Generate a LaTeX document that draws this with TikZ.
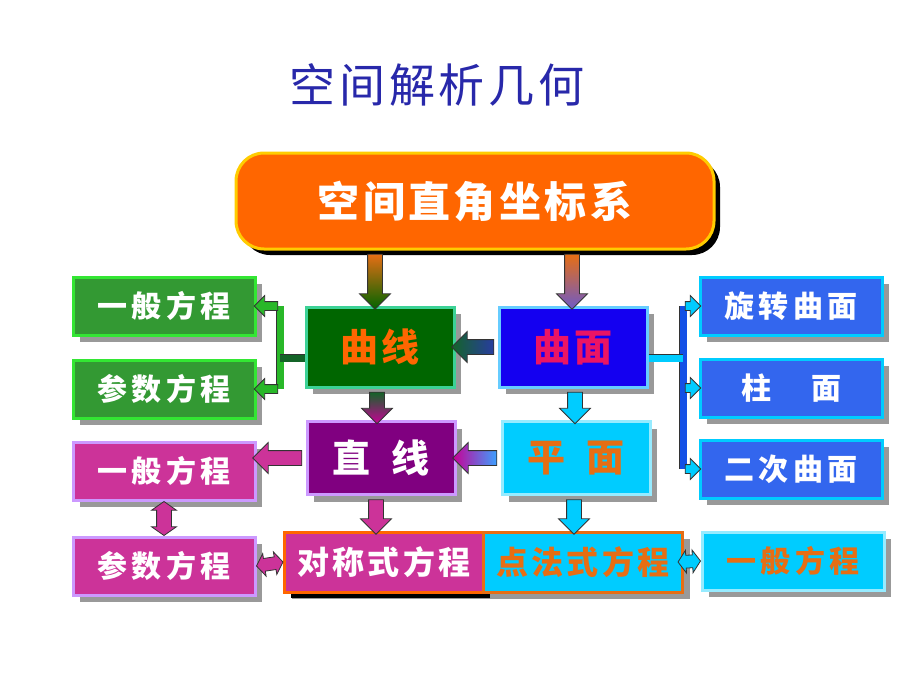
\documentclass[tikz,border=0pt]{standalone}
\usepackage{fontspec}
\newfontfamily\cjk{Noto Sans CJK SC}
\usetikzlibrary{shapes.arrows,shadows,calc}

\definecolor{titleblue}{RGB}{40,40,170}
\definecolor{topfill}{RGB}{255,102,0}
\definecolor{topline}{RGB}{255,204,0}
\definecolor{qxfill}{RGB}{0,102,0}
\definecolor{qxline}{RGB}{60,210,150}
\definecolor{qmfill}{RGB}{20,0,240}
\definecolor{qmline}{RGB}{102,204,255}
\definecolor{qmtext}{RGB}{235,20,100}
\definecolor{zxfill}{RGB}{128,0,128}
\definecolor{lilac}{RGB}{204,153,255}
\definecolor{skyfill}{RGB}{0,204,255}
\definecolor{skyline}{RGB}{150,235,255}
\definecolor{ortext}{RGB}{230,110,20}
\definecolor{gfill}{RGB}{51,153,51}
\definecolor{gline}{RGB}{51,230,51}
\definecolor{gdark}{RGB}{20,100,40}
\definecolor{mfill}{RGB}{204,51,153}
\definecolor{bfill}{RGB}{51,102,238}
\definecolor{bdark}{RGB}{20,80,230}
\definecolor{arrgreen}{RGB}{0,100,0}
\definecolor{arrviolet}{RGB}{110,90,200}
\definecolor{arrblue}{RGB}{40,60,160}
\definecolor{arrmag}{RGB}{200,0,150}
\definecolor{arrsky}{RGB}{60,160,255}

\tikzset{
  box/.style={rectangle, minimum width=182pt, minimum height=58pt, inner sep=0pt,
    line width=3pt, text=white,
    font=\cjk\bfseries\fontsize{30}{30}\selectfont\addfontfeature{LetterSpace=15},
    drop shadow={shadow xshift=7pt, shadow yshift=-7pt, fill=black!40, opacity=1}},
  midbox/.style={box, minimum width=148pt, minimum height=76pt,
    font=\cjk\bfseries\fontsize{38}{38}\selectfont\addfontfeature{LetterSpace=10}},
  lowbox/.style={box, minimum width=199pt, minimum height=60pt,
    font=\cjk\bfseries\fontsize{32}{32}\selectfont\addfontfeature{LetterSpace=10}},
  barrow/.style={single arrow, draw=black!80, line width=0.8pt, inner xsep=0pt, inner ysep=7pt,
    single arrow head extend=8pt, single arrow head indent=0pt},
  sarrow/.style={barrow, inner ysep=4pt, single arrow head extend=6pt},
  darrow/.style={double arrow, draw=black!80, line width=0.8pt, inner xsep=0pt, inner ysep=6pt,
    double arrow head extend=5pt, double arrow head indent=0pt, double arrow tip angle=110},
  bar/.style={draw=black!80, line width=0.8pt, double distance=7pt}
}

% block arrow from #2 to #3
\newcommand{\blockarrow}[3][]{%
  \path let \p1=(#2), \p2=(#3), \n1={atan2(\y2-\y1,\x2-\x1)}, \n2={veclen(\x2-\x1,\y2-\y1)} in
    node[#1, rotate=\n1, minimum height=\n2] at ($(\p1)!0.5!(\p2)$) {};%
}

\begin{document}
\begin{tikzpicture}[x=1pt, y=-1pt]
\useasboundingbox[fill=white] (0,0) rectangle (920,690);

\node[font=\cjk\fontsize{46}{46}\selectfont\addfontfeature{LetterSpace=8}, text=titleblue] (title) at (437,85) {空间解析几何};

% top
\node[rectangle, rounded corners=28pt, minimum width=478pt, minimum height=96pt, fill=topfill, draw=topline, line width=3pt,
  text=white, font=\cjk\bfseries\fontsize{42}{42}\selectfont\addfontfeature{LetterSpace=8},
  drop shadow={shadow xshift=6pt, shadow yshift=-6pt, fill=black, opacity=1}] (top) at (475,201) {空间直角坐标系};

% middle column
\node[midbox, minimum height=80pt, fill=qxfill, draw=qxline, text=topfill] (qx) at (380,347) {曲线};
\node[midbox, minimum height=80pt, fill=qmfill, draw=qmline, text=qmtext] (qm) at (573,347) {曲面};
\node[midbox, minimum height=73pt, fill=zxfill, draw=lilac] (zx) at (381,458) {直\hspace{22pt}线};
\node[midbox, minimum height=73pt, fill=skyfill, draw=skyline, text=ortext] (pm) at (576,458) {平\hspace{22pt}面};

% left
\node[box, fill=gfill, draw=gline] (g1) at (164,306) {一般方程};
\node[box, fill=gfill, draw=gline] (g2) at (164,389) {参数方程};
\node[box, fill=mfill, draw=lilac] (m1) at (164,471) {一般方程};
\node[box, fill=mfill, draw=lilac] (m2) at (164,566) {参数方程};

% right
\node[box, fill=bfill, draw=skyfill] (b1) at (791,306) {旋转曲面};
\node[box, fill=bfill, draw=skyfill] (b2) at (791,388) {柱\hspace{40pt}面};
\node[box, fill=bfill, draw=skyfill] (b3) at (791,469) {二次曲面};

% bottom
\node[lowbox, fill=mfill, draw=topfill, drop shadow={shadow xshift=6pt, shadow yshift=-6pt, fill=black, opacity=1}] (dc) at (384,562) {对称式方程};
\node[lowbox, fill=skyfill, draw=ortext, text=ortext] (dd) at (583,562) {点法式方程};
\node[box, fill=skyfill, draw=skyline, text=ortext] (yb) at (793,561) {一般方程};

% arrows
\blockarrow[barrow, top color=ortext, bottom color=arrgreen]{top.south -| 375,0}{qx.north -| 375,0}
\blockarrow[barrow, top color=ortext, bottom color=arrviolet]{top.south -| 572,0}{qm.north -| 572,0}
\blockarrow[barrow, left color=gdark, right color=arrblue]{qm.west}{qx.east}
\blockarrow[barrow, top color=gdark, bottom color=arrmag]{qx.south -| 377,0}{zx.north -| 377,0}
\blockarrow[barrow, fill=skyfill]{qm.south -| 575,0}{pm.north -| 575,0}
\blockarrow[barrow, left color=arrmag, right color=arrsky]{pm.west}{zx.east}
\blockarrow[barrow, fill=mfill]{zx.west}{m1.east |- zx.west}
\blockarrow[barrow, fill=mfill]{zx.south -| 376,0}{dc.north -| 376,0}
\blockarrow[barrow, fill=skyfill]{pm.south -| 574,0}{dd.north -| 574,0}
\blockarrow[darrow, fill=mfill, inner ysep=7pt]{m1.south}{m2.north}
\blockarrow[darrow, fill=mfill]{m2.east}{dc.west}
\blockarrow[darrow, fill=skyfill]{$(dd.east)+(-6,0)$}{yb.west}

% forks
\coordinate (gf) at (280,358);
\draw[bar, double=gline!80!black] (gf |- g1.east) -- (gf |- g2.east);
\draw[bar, double=gdark] (qx.west |- gf) -- (gf);
\blockarrow[sarrow, fill=gline!80!black]{gf |- g1.east}{g1.east}
\blockarrow[sarrow, fill=gline!80!black]{gf |- g2.east}{g2.east}

\coordinate (bf) at (683,358);
\draw[bar, double=bdark] (bf |- b1.west) -- (bf |- b3.west);
\draw[bar, double=skyfill] (qm.east |- bf) -- (bf);
\blockarrow[sarrow, fill=skyfill]{bf |- b1.west}{b1.west}
\blockarrow[sarrow, fill=skyfill]{bf |- b2.west}{b2.west}
\blockarrow[sarrow, fill=skyfill]{bf |- b3.west}{b3.west}

\end{tikzpicture}
\end{document}
